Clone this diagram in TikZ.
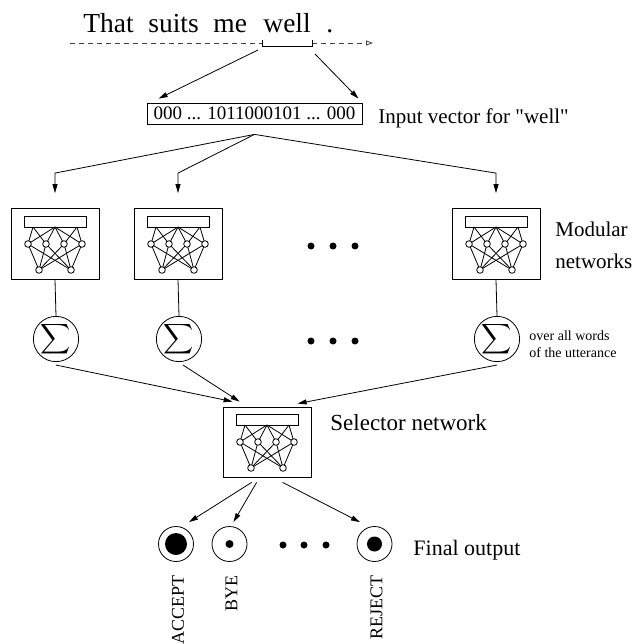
\documentclass[tikz,border=0pt]{standalone}
\usepackage{fontspec}
\setmainfont{Liberation Serif}
\usepackage{graphicx}
\usetikzlibrary{arrows.meta}

\begin{document}
\begin{tikzpicture}[x=1pt,y=-1pt,line width=0.8pt]
  \tikzset{fs/.style={font={\fontsize{#1}{#1}\selectfont}},
    lbl/.style={inner sep=0pt,anchor=base west},
    netbox/.style={draw,minimum width=88pt,minimum height=71pt,inner sep=0pt},
    sumc/.style={draw,circle,minimum size=45pt,inner sep=0pt},
    outc/.style={draw,circle,minimum size=35pt,inner sep=0pt},
    blob/.style={circle,fill,inner sep=0pt,minimum size=7pt},
    arr/.style={-{Triangle[length=9pt,width=5pt]}},
    mininet/.pic={\draw (-31,-28) rectangle (31,-17);
      \foreach \h/\p in {-27/-22,-27/0,-9/-22,-9/0,9/0,9/22,27/0,27/22}{\draw (\p,-17) -- (\h,0);}
      \foreach \h in {-27,-9,9,27}{\foreach \o in {-16,16}{\draw (\h,0) -- (\o,26);}}
      \foreach \h in {-27,-9,9,27}{\draw[fill=white] (\h,0) circle (3.3pt);}
      \foreach \o in {-16,16}{\draw[fill=white] (\o,26) circle (3.3pt);}}}
  \useasboundingbox (0,0) rectangle (635,644);
  \foreach \x/\w [count=\i] in {83/That,148/suits,213/me,263/well,326/.}{\node[lbl,fs=27.5] (w\i) at (\x,32.7) {\w};}
  \coordinate (dstart) at (70,43);
  \coordinate (bl) at (262,43);
  \coordinate (br) at (312,43);
  \coordinate (dend) at (373,43);
  \draw[dashed,dash pattern=on 5pt off 4pt,black!75] (dstart) -- (bl);
  \draw[dashed,dash pattern=on 5pt off 4pt,black!75,-{Triangle[open,length=7pt,width=5pt]}] (br) -- (dend);
  \draw ([yshift=3pt]bl) -- ([yshift=-3pt]bl) -- ([yshift=-3pt]br) -- ([yshift=3pt]br);
  \node[draw,fs=19,minimum height=21pt,inner xsep=6.5pt,inner ysep=0pt] (inp) at (254.5,113.5) {000 ... 1011000101 ... 000};
  \node[lbl,fs=21] (inplbl) at (378,124) {Input vector for \textquotedbl well\textquotedbl};
  \draw[arr] ([xshift=-4pt,yshift=-7pt]bl) -- ([xshift=12pt,yshift=4pt]inp.north west);
  \draw[arr] ([xshift=3pt,yshift=-11pt]br) -- ([xshift=-4pt,yshift=4pt]inp.north east);
  \coordinate (split) at ([yshift=-10pt]inp.south);
  \foreach \x [count=\i] in {55,178,496}{
    \node[netbox] (m\i) at (\x,244) {};
    \pic at (m\i) {mininet};
    \node[sumc] (s\i) at (\x+1,339) {\scalebox{2.1}{$\displaystyle\sum$}};
    \draw (m\i.south) -- (s\i.north);
    \draw[arr] (split) -- ([yshift=35pt]m\i.north) -- ([yshift=15pt]m\i.north);}
  \foreach \y in {246,341}{\foreach \x in {311,333,355}{\node[blob] (dot-\x-\y) at (\x,\y) {};}}
  \node[lbl,fs=21] (modlbl) at (555,236) {Modular};
  \node[lbl,fs=21] (netlbl) at (555,268) {networks};
  \node[font={\fontsize{14}{17}\selectfont},align=left,anchor=west,inner sep=0pt] (sumlbl) at (529,344) {over all words\\of the utterance};
  \node[netbox,minimum height=70pt] (sel) at (267,442) {};
  \pic at (sel) {mininet};
  \node[lbl,fs=23] (sellbl) at (330,430) {Selector network};
  \draw[arr] ([yshift=-3pt]s1.south) -- ([xshift=10pt,yshift=5pt]sel.north west);
  \draw[arr] ([xshift=4pt,yshift=-3pt]s2.south) -- ([xshift=17pt,yshift=5pt]sel.north west);
  \draw[arr] ([yshift=-3pt]s3.south) -- ([xshift=75pt,yshift=3pt]sel.north west);
  \foreach \x/\r/\lab/\sx/\ex [count=\i] in {176/11/ACCEPT/29/13,229.5/4/BYE/34/4,374.5/7.5/REJECT/60/-14.5}{
    \node[outc] (o\i) at (\x,544) {};
    \fill (o\i) circle (\r pt);
    \node[fs=18,rotate=90,anchor=east,inner sep=0pt] (t\i) at (\x+2,575) {\lab};
    \draw[arr] ([xshift=\sx pt,yshift=-5pt]sel.south west) -- ([xshift=\ex pt,yshift=4pt]o\i.north);}
  \foreach \x in {283,304,326}{\node[blob] (dot-\x) at (\x,545) {};}
  \node[lbl,fs=22] (finlbl) at (413,555) {Final output};
\end{tikzpicture}
\end{document}
